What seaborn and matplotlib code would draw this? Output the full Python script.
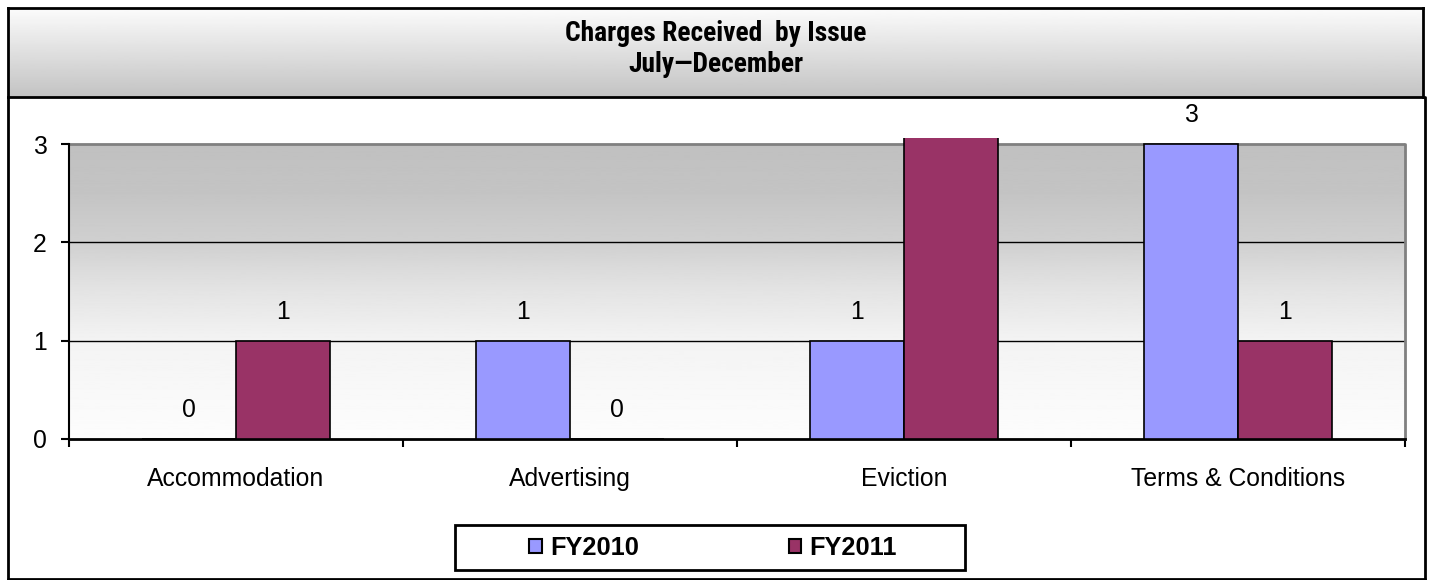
import matplotlib
matplotlib.use("Agg")
import matplotlib.pyplot as plt
from matplotlib import font_manager
from matplotlib.font_manager import FontProperties
from matplotlib.lines import Line2D
from matplotlib.patches import Patch, Rectangle
import numpy as np
import pandas as pd
import seaborn as sns

# chart data
categories = ["Accommodation", "Advertising", "Eviction", "Terms & Conditions"]
fy2010 = [0, 1, 1, 3]
fy2011 = [1, 0, 4, 1]  # Eviction runs past the fixed axis max of 3 -> clipped, no label
series_names = ["FY2010", "FY2011"]
series_colors = ["#9999FF", "#993366"]
y_ticks = [0, 1, 2, 3]
title_lines = ["Charges Received  by Issue", "July\u2014December"]

W, H = 1432, 580


def fx(px):
    return px / W


def fy(px):
    return 1 - px / H


def narrow_bold_font():
    """Find a bold narrow/condensed face for the title, if one is installed."""
    prefs = ["liberation sans narrow", "arial narrow", "roboto condensed",
             "open sans condensed", "noto sans condensed", "dejavu sans condensed"]
    found = []
    for f in font_manager.fontManager.ttflist:
        tag = (f.name + " " + f.fname.rsplit("/", 1)[-1]).lower()
        squeezed = ("narrow" in tag or "condensed" in tag
                    or f.stretch in ("condensed", "semi-condensed", 75, 87.5))
        bold = f.weight in ("bold", 700) or "bold" in tag
        if squeezed and bold and "extra" not in tag and "italic" not in tag \
                and "oblique" not in tag and "semibold" not in tag:
            rank = next((i for i, p in enumerate(prefs) if p in tag.replace("-", " ")), len(prefs))
            found.append((rank, f.fname))
    if found:
        return FontProperties(fname=sorted(found)[0][1])
    return FontProperties(family="Liberation Sans", weight="bold")


df = pd.DataFrame({
    "Issue": categories * 2,
    "Charges": fy2010 + fy2011,
    "Year": [series_names[0]] * len(categories) + [series_names[1]] * len(categories),
})

sns.set_theme(style="white")
plt.rcParams["font.family"] = ["Liberation Sans", "DejaVu Sans"]
plt.rcParams["text.color"] = "black"

fig = plt.figure(figsize=(W / 100, H / 100), dpi=100)
fig.patch.set_facecolor("white")

# plot area: y=0 at 439px, y=3 at 144px
y_axis_max = 3
y_lim_top = 3.06
unit_px = (439 - 144) / y_axis_max
top_px = 439 - unit_px * y_lim_top
ax = fig.add_axes([fx(69), fy(439), fx(1405) - fx(69), (439 - top_px) / H])
ax.set_facecolor("none")

# grey-to-white gradient behind the bars
ys = np.linspace(0, y_axis_max, 300)
shade = np.interp(ys, [0, 1, 1.5, 2, 2.5, 3], [253, 243, 228, 208, 196, 192])
ax.imshow(shade[:, None], cmap="gray", vmin=0, vmax=255, origin="lower",
          extent=(-0.5, 3.5, 0, y_axis_max), aspect="auto", zorder=0)

sns.barplot(data=df, x="Issue", y="Charges", hue="Year", hue_order=series_names,
            palette=dict(zip(series_names, series_colors)), width=0.56, gap=0,
            saturation=1, errorbar=None, edgecolor="black", linewidth=1.2,
            legend=False, ax=ax, zorder=3)

ax.set_xlim(-0.5, 3.5)
ax.set_ylim(0, y_lim_top)

for y in y_ticks[1:-1]:
    ax.axhline(y, color="black", lw=1, zorder=1)
ax.plot([-0.5, 3.5], [y_axis_max, y_axis_max], color="#808080", lw=2, zorder=1)
ax.plot([3.5, 3.5], [0, y_axis_max], color="#808080", lw=2, zorder=1, clip_on=False)

for container, vals in zip(ax.containers, [fy2010, fy2011]):
    labels = [str(v) if v <= y_axis_max else "" for v in vals]
    ax.bar_label(container, labels=labels, padding=12, fontsize=17.8, color="black")

for side in ["top", "right"]:
    ax.spines[side].set_visible(False)
ax.spines["left"].set_color("black")
ax.spines["left"].set_linewidth(1.5)
ax.spines["left"].set_bounds(0, y_axis_max)
ax.spines["bottom"].set_color("black")
ax.spines["bottom"].set_linewidth(2)

ax.set_yticks(y_ticks)
ax.set_yticklabels([str(t) for t in y_ticks])
ax.tick_params(axis="y", left=True, length=6, width=1.5, direction="out",
               pad=10, labelsize=17.8, colors="black")
ax.set_xticks(range(len(categories)))
ax.set_xticklabels(categories)
ax.tick_params(axis="x", which="major", length=0, pad=20, labelsize=17.8, colors="black")
ax.set_xticks([i - 0.5 for i in range(len(categories) + 1)], minor=True)
ax.tick_params(axis="x", which="minor", bottom=True, length=6, width=1.5,
               direction="out", color="black")
ax.set_xlabel("")
ax.set_ylabel("")

# title box with its own gradient
ax_t = fig.add_axes([fx(8), fy(97), fx(1423) - fx(8), (97 - 8) / H])
tshade = np.linspace(195, 252, 100)
ax_t.imshow(tshade[:, None], cmap="gray", vmin=0, vmax=255, origin="lower",
            extent=(0, 1, 0, 1), aspect="auto")
ax_t.set_xticks([])
ax_t.set_yticks([])
for sp in ax_t.spines.values():
    sp.set_color("black")
    sp.set_linewidth(2)
title_font = narrow_bold_font()
title_font.set_size(19.8)
title_font.set_weight("bold")
ax_t.text(0.5, (97 - 49) / 89, "\n".join(title_lines), ha="center", va="center",
          fontproperties=title_font, color="black", linespacing=1.18,
          transform=ax_t.transAxes)

# outer frame below the title box
for xs, yv in [([8, 8], [97, 579]), ([1425, 1425], [97, 579]), ([8, 1425], [579, 579])]:
    fig.add_artist(Line2D([fx(x) for x in xs], [fy(y) for y in yv],
                          color="black", lw=2, transform=fig.transFigure))

# legend with a separate box
fig.add_artist(Rectangle((fx(455), fy(570)), fx(965) - fx(455), (570 - 525) / H,
                         transform=fig.transFigure, fill=False, ec="black", lw=2))
handles = [Patch(fc=c, ec="black", lw=1.5) for c in series_colors]
fig.legend(handles, series_names, loc="center", bbox_to_anchor=(fx(713), fy(548)),
           ncol=2, frameon=False, prop={"weight": "bold", "size": 18.3},
           handlelength=0.5, handleheight=0.5, handletextpad=0.3, columnspacing=5.9,
           labelcolor="black")

fig.savefig("out.png", dpi=100)
